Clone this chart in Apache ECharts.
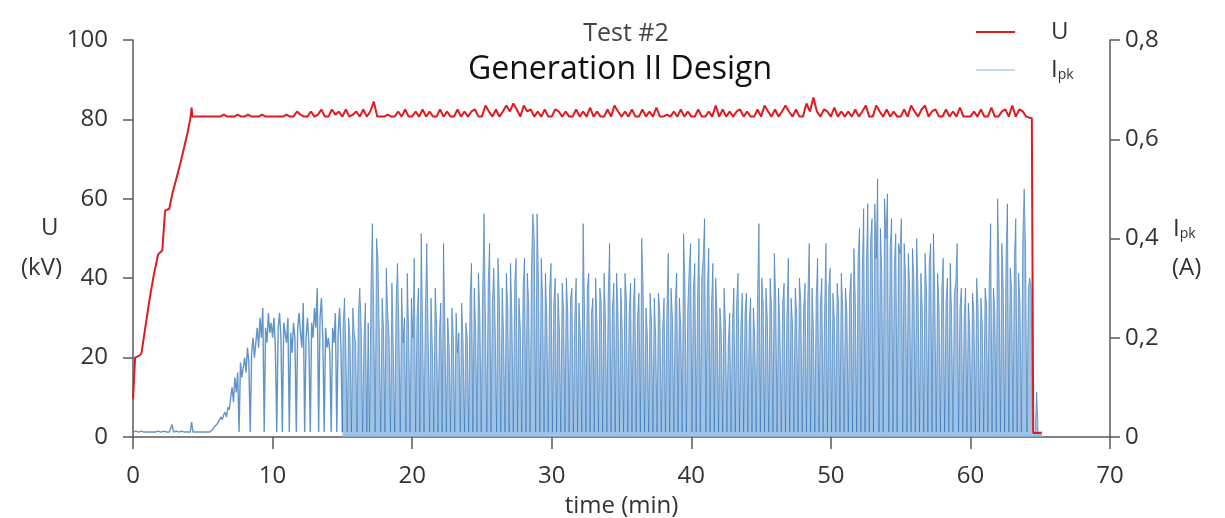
<!DOCTYPE html>
<html>
<head>
<meta charset="utf-8">
<script src="https://cdn.jsdelivr.net/npm/echarts@6/dist/echarts.min.js"></script>
<style>
  html, body { margin: 0; padding: 0; background: #fff; }
  #chart { width: 1225px; height: 518px; }
</style>
</head>
<body>
<div id="chart"></div>
<script>
// x axis ticks (min)
const timeTicks = [0, 10, 20, 30, 40, 50, 60, 70];

// U (kV): ramp up, noisy plateau (every 0.25 min from 5.0), drop at the end
const uRampTime = [0, 0.15, 0.45, 0.6, 0.9, 1.2, 1.5, 1.8, 2.1, 2.3, 2.6, 2.8, 3.1, 3.4, 3.6, 3.9, 4.1, 4.2, 4.25, 4.75];
const uRampValues = [9.5, 20, 20.5, 21, 28, 35, 41, 46, 47, 57, 57.5, 61, 65, 69, 72, 76.5, 80, 83, 80.7, 80.7];
const uPlateauStart = 5.0;
const uPlateauStep = 0.25;
const uPlateau = [
  80.7, 80.7, 80.7, 80.7,
  80.7, 80.7, 81.2, 80.7,
  80.7, 80.7, 81.2, 80.7,
  80.7, 81.2, 80.7, 80.7,
  80.7, 81.2, 80.7, 80.7,
  80.7, 80.7, 80.7, 80.7,
  81.2, 80.7, 80.7, 82,
  81.2, 80.7, 80.7, 82,
  80.7, 81.2, 82.5, 80.7,
  80.7, 82.5, 81.2, 82,
  80.7, 82.5, 80.7, 81.2,
  82, 80.7, 82.5, 80.7,
  82, 84.5, 80.7, 80.7,
  80.7, 81.2, 80.7, 80.7,
  82, 80.7, 82.5, 80.7,
  80.7, 82, 80.7, 82.5,
  80.7, 82, 80.7, 80.7,
  82.5, 80.7, 82, 80.7,
  80.7, 82.5, 80.7, 82,
  80.7, 82, 82.5, 80.7,
  80.7, 83.5, 82, 80.7,
  82.5, 80.7, 82, 83.5,
  82, 84, 82.5, 80.7,
  83.5, 82, 82.5, 80.7,
  82, 80.7, 82.5, 80.7,
  80.7, 82.5, 82, 80.7,
  82, 80.7, 80.7, 82.5,
  80.7, 82, 80.7, 83,
  80.7, 82, 80.7, 80.7,
  82.5, 80.7, 83.5, 82,
  80.7, 82, 80.7, 82.5,
  80.7, 80.7, 82.5, 80.7,
  82, 80.7, 83, 80.7,
  80.7, 81.2, 80.7, 82,
  80.7, 82.5, 80.7, 82,
  80.7, 80.7, 82.5, 80.7,
  80.7, 82, 80.7, 83.5,
  80.7, 82.5, 80.7, 82,
  80.7, 82, 82.5, 80.7,
  82, 80.7, 80.7, 82.5,
  80.7, 83.5, 82, 80.7,
  82.5, 80.7, 82, 83.5,
  82, 80.7, 82.5, 80.7,
  80.7, 84, 82, 85.5,
  82, 80.7, 82.5, 82,
  80.7, 83, 80.7, 82,
  80.7, 82, 80.7, 82.5,
  80.7, 82, 83.5, 80.7,
  80.7, 83.5, 82, 80.7,
  82.5, 80.7, 82, 80.7,
  80.7, 82.5, 80.7, 83.5,
  82, 80.7, 82.5, 83.5,
  80.7, 82, 82.5, 80.7,
  80.7, 82.5, 80.7, 82,
  80.7, 83, 80.7, 80.7,
  80.7, 82, 80.7, 82.5,
  80.7, 80.7, 83, 80.7,
  80.7, 82, 82.5, 80.7,
  83.5, 80.7, 82.5, 82,
  80.7, 80.4
];
const uEndTime = [64.4, 64.5, 65.1];
const uEndValues = [80.3, 1, 1];

// Ipk (A), sampled every 0.1 min from t = 0, one line per minute
const ipkStart = 0;
const ipkStep = 0.1;
const ipkValues = [
  0.01, 0.01, 0.012, 0.01, 0.01, 0.01, 0.012, 0.01, 0.01, 0.01,
  0.01, 0.01, 0.01, 0.012, 0.01, 0.01, 0.01, 0.01, 0.012, 0.01,
  0.01, 0.01, 0.012, 0.01, 0.01, 0.01, 0.01, 0.012, 0.025, 0.01,
  0.01, 0.012, 0.01, 0.01, 0.01, 0.012, 0.01, 0.01, 0.01, 0.01,
  0.012, 0.01, 0.03, 0.01, 0.01, 0.01, 0.012, 0.01, 0.01, 0.01,
  0.01, 0.01, 0.012, 0.01, 0.01, 0.01, 0.012, 0.015, 0.02, 0.018,
  0.025, 0.03, 0.028, 0.04, 0.035, 0.045, 0.05, 0.04, 0.06, 0.055,
  0.08, 0.1, 0.07, 0.12, 0.09, 0.13, 0.01, 0.15, 0.12, 0.14,
  0.16, 0.13, 0.18, 0.15, 0.01, 0.17, 0.2, 0.16, 0.19, 0.22,
  0.18, 0.24, 0.2, 0.26, 0.01, 0.22, 0.19, 0.25, 0.21, 0.23,
  0.2, 0.24, 0.18, 0.01, 0.22, 0.25, 0.2, 0.01, 0.23, 0.21,
  0.19, 0.24, 0.01, 0.21, 0.17, 0.23, 0.2, 0.01, 0.22, 0.25,
  0.21, 0.18, 0.27, 0.01, 0.2, 0.24, 0.19, 0.01, 0.23, 0.2,
  0.26, 0.22, 0.3, 0.01, 0.24, 0.28, 0.2, 0.01, 0.22, 0.18,
  0.2, 0.17, 0.01, 0.22, 0.19, 0.25, 0.01, 0.21, 0.26, 0.18,
  0.01, 0.22, 0.28, 0.18, 0.01, 0.24, 0.2, 0.01, 0.26, 0.21,
  0.19, 0.01, 0.25, 0.3, 0.22, 0.01, 0.2, 0.27, 0.01, 0.23,
  0.01, 0.3, 0.43, 0.24, 0.01, 0.4, 0.36, 0.2, 0.01, 0.28,
  0.22, 0.01, 0.34, 0.25, 0.2, 0.01, 0.31, 0.18, 0.01, 0.27,
  0.35, 0.22, 0.01, 0.3, 0.19, 0.24, 0.01, 0.33, 0.21, 0.01,
  0.28, 0.2, 0.36, 0.01, 0.24, 0.3, 0.01, 0.41, 0.22, 0.01,
  0.26, 0.39, 0.2, 0.01, 0.28, 0.18, 0.01, 0.3, 0.23, 0.01,
  0.21, 0.27, 0.01, 0.39, 0.22, 0.01, 0.24, 0.18, 0.01, 0.26,
  0.2, 0.01, 0.25, 0.17, 0.21, 0.01, 0.27, 0.19, 0.01, 0.23,
  0.2, 0.01, 0.28, 0.35, 0.01, 0.3, 0.22, 0.01, 0.33, 0.25,
  0.01, 0.29, 0.45, 0.24, 0.01, 0.31, 0.39, 0.01, 0.27, 0.34,
  0.22, 0.01, 0.36, 0.28, 0.01, 0.3, 0.21, 0.01, 0.33, 0.26,
  0.01, 0.35, 0.24, 0.01, 0.31, 0.36, 0.01, 0.28, 0.22, 0.01,
  0.3, 0.36, 0.01, 0.33, 0.27, 0.01, 0.34, 0.45, 0.4, 0.01,
  0.45, 0.32, 0.01, 0.36, 0.28, 0.01, 0.33, 0.24, 0.01, 0.3,
  0.35, 0.01, 0.27, 0.32, 0.01, 0.29, 0.22, 0.01, 0.31, 0.26,
  0.01, 0.32, 0.25, 0.01, 0.28, 0.3, 0.01, 0.24, 0.32, 0.01,
  0.27, 0.21, 0.01, 0.43, 0.26, 0.01, 0.3, 0.33, 0.01, 0.25,
  0.28, 0.01, 0.32, 0.22, 0.01, 0.3, 0.27, 0.01, 0.33, 0.24,
  0.01, 0.29, 0.39, 0.01, 0.26, 0.31, 0.01, 0.33, 0.25, 0.01,
  0.3, 0.22, 0.01, 0.33, 0.28, 0.01, 0.25, 0.31, 0.01, 0.27,
  0.32, 0.01, 0.24, 0.29, 0.01, 0.4, 0.3, 0.01, 0.26, 0.21,
  0.01, 0.29, 0.23, 0.01, 0.28, 0.2, 0.01, 0.29, 0.25, 0.01,
  0.22, 0.28, 0.01, 0.25, 0.37, 0.01, 0.3, 0.24, 0.01, 0.27,
  0.33, 0.01, 0.28, 0.22, 0.01, 0.41, 0.3, 0.01, 0.26, 0.34,
  0.39, 0.01, 0.3, 0.35, 0.01, 0.28, 0.4, 0.01, 0.32, 0.36,
  0.44, 0.01, 0.3, 0.38, 0.01, 0.27, 0.35, 0.01, 0.32, 0.24,
  0.01, 0.26, 0.21, 0.01, 0.3, 0.23, 0.01, 0.19, 0.25, 0.01,
  0.23, 0.3, 0.01, 0.27, 0.33, 0.01, 0.22, 0.29, 0.01, 0.25,
  0.29, 0.01, 0.23, 0.28, 0.01, 0.26, 0.2, 0.01, 0.29, 0.43,
  0.01, 0.32, 0.27, 0.01, 0.3, 0.24, 0.01, 0.32, 0.26, 0.01,
  0.37, 0.28, 0.01, 0.3, 0.22, 0.01, 0.27, 0.31, 0.01, 0.24,
  0.36, 0.01, 0.28, 0.23, 0.01, 0.3, 0.25, 0.01, 0.32, 0.27,
  0.01, 0.26, 0.31, 0.01, 0.28, 0.39, 0.01, 0.3, 0.22, 0.01,
  0.28, 0.36, 0.01, 0.27, 0.32, 0.01, 0.25, 0.39, 0.01, 0.3,
  0.34, 0.01, 0.29, 0.24, 0.01, 0.31, 0.27, 0.01, 0.33, 0.26,
  0.01, 0.3, 0.25, 0.01, 0.29, 0.33, 0.01, 0.38, 0.28, 0.01,
  0.36, 0.42, 0.01, 0.33, 0.46, 0.01, 0.35, 0.47, 0.01, 0.4,
  0.44, 0.01, 0.47, 0.36, 0.52, 0.01, 0.42, 0.33, 0.01, 0.48,
  0.4, 0.49, 0.01, 0.38, 0.44, 0.01, 0.35, 0.41, 0.01, 0.39,
  0.37, 0.44, 0.01, 0.39, 0.33, 0.01, 0.37, 0.3, 0.01, 0.38,
  0.32, 0.01, 0.4, 0.29, 0.01, 0.33, 0.26, 0.01, 0.37, 0.3,
  0.01, 0.35, 0.39, 0.01, 0.41, 0.28, 0.01, 0.33, 0.26, 0.01,
  0.3, 0.36, 0.01, 0.27, 0.32, 0.01, 0.35, 0.25, 0.01, 0.29,
  0.31, 0.39, 0.01, 0.26, 0.3, 0.01, 0.24, 0.3, 0.01, 0.27,
  0.22, 0.01, 0.29, 0.25, 0.01, 0.32, 0.26, 0.01, 0.28, 0.23,
  0.01, 0.3, 0.27, 0.01, 0.32, 0.43, 0.01, 0.3, 0.25, 0.01,
  0.48, 0.33, 0.01, 0.39, 0.3, 0.01, 0.36, 0.47, 0.01, 0.34,
  0.3, 0.01, 0.36, 0.44, 0.01, 0.33, 0.27, 0.01, 0.4, 0.5,
  0.38, 0.01, 0.3, 0.32, 0.3, 0.01, 0.01, 0.02, 0.09, 0.01,
  0.01, 0.01, 0.01
];
// from this sample on the trace switches so fast that it reads as filled columns
const ipkDenseFrom = 150;

const FONT = "'Open Sans', 'Noto Sans', sans-serif";
const AXIS_COLOR = '#5a5a5a';
const TEXT_COLOR = '#333';
const FS = 24;

function buildU() {
  const pts = [];
  for (let i = 0; i < uRampTime.length; i++) pts.push([uRampTime[i], uRampValues[i]]);
  for (let i = 0; i < uPlateau.length; i++) pts.push([uPlateauStart + i * uPlateauStep, uPlateau[i]]);
  for (let i = 0; i < uEndTime.length; i++) pts.push([uEndTime[i], uEndValues[i]]);
  return pts;
}

function buildIpk(from, to) {
  const pts = [];
  for (let i = from; i < to; i++) pts.push([+(ipkStart + i * ipkStep).toFixed(2), ipkValues[i]]);
  return pts;
}

var chartDom = document.getElementById('chart');
var myChart = echarts.init(chartDom, null, { renderer: 'canvas' });
var option;

option = {
  animation: false,
  backgroundColor: '#fff',
  title: [
    {
      text: 'Test #2',
      left: 621,
      top: 16,
      textAlign: 'center',
      textStyle: { fontFamily: FONT, fontSize: 25, fontWeight: 'normal', color: '#444' }
    },
    {
      text: 'Generation II Design',
      left: 615,
      top: 49,
      textAlign: 'center',
      textStyle: { fontFamily: FONT, fontSize: 32, fontWeight: 'normal', color: '#111' }
    }
  ],
  legend: {
    orient: 'vertical',
    left: 971,
    top: 15,
    icon: 'rect',
    itemWidth: 39,
    itemHeight: 2,
    itemGap: 14,
    data: [
      { name: 'U', itemStyle: { color: '#e01b1f' } },
      { name: 'Ipk', itemStyle: { color: '#c9d9ec' } }
    ],
    textStyle: {
      fontFamily: FONT,
      fontSize: FS,
      lineHeight: 24,
      color: TEXT_COLOR,
      padding: [0, 0, 0, 31],
      rich: {
        i: { fontFamily: FONT, fontSize: FS, lineHeight: 24, color: TEXT_COLOR },
        s: { fontFamily: FONT, fontSize: 14, lineHeight: 24, color: TEXT_COLOR, padding: [10, 0, 0, 0] }
      }
    },
    formatter: function (name) {
      return name === 'Ipk' ? '{i|I}{s|pk}' : name;
    }
  },
  grid: {
    left: 133,
    right: 115,
    top: 40,
    bottom: 81,
    containLabel: false,
    outerBoundsMode: 'none'
  },
  xAxis: {
    type: 'value',
    min: timeTicks[0],
    max: timeTicks[timeTicks.length - 1],
    interval: 10,
    name: 'time (min)',
    nameLocation: 'middle',
    nameGap: 57,
    nameTextStyle: { fontFamily: FONT, fontSize: FS, color: TEXT_COLOR },
    axisLine: { show: true, lineStyle: { color: AXIS_COLOR, width: 1.5 } },
    axisTick: { show: true, length: 12, lineStyle: { color: AXIS_COLOR, width: 1.5 } },
    axisLabel: { margin: 27, fontFamily: FONT, fontSize: FS, color: TEXT_COLOR },
    splitLine: { show: false }
  },
  yAxis: [
    {
      type: 'value',
      min: 0,
      max: 100,
      interval: 20,
      position: 'left',
      axisLine: { show: true, lineStyle: { color: AXIS_COLOR, width: 1.5 } },
      axisTick: { show: true, length: 10, lineStyle: { color: AXIS_COLOR, width: 1.5 } },
      axisLabel: { margin: 25, fontFamily: FONT, fontSize: FS, color: TEXT_COLOR },
      splitLine: { show: false }
    },
    {
      type: 'value',
      min: 0,
      max: 0.8,
      interval: 0.2,
      position: 'right',
      axisLine: { show: true, lineStyle: { color: AXIS_COLOR, width: 1.5 } },
      axisTick: { show: true, length: 10, lineStyle: { color: AXIS_COLOR, width: 1.5 } },
      axisLabel: {
        margin: 15,
        fontFamily: FONT,
        fontSize: FS,
        color: TEXT_COLOR,
        formatter: function (v) { return String(+v.toFixed(1)).replace('.', ','); }
      },
      splitLine: { show: false }
    }
  ],
  graphic: [
    {
      type: 'text',
      left: 41,
      top: 216,
      style: { text: 'U', fontFamily: FONT, fontSize: FS, fill: TEXT_COLOR }
    },
    {
      type: 'text',
      left: 21,
      top: 256,
      style: { text: '(kV)', fontFamily: FONT, fontSize: FS, fill: TEXT_COLOR }
    },
    {
      type: 'text',
      left: 1173,
      top: 217,
      style: {
        text: '{i|I}{s|pk}',
        rich: {
          i: { fontFamily: FONT, fontSize: FS, lineHeight: 24, fill: TEXT_COLOR },
          s: { fontFamily: FONT, fontSize: 14, lineHeight: 24, fill: TEXT_COLOR, padding: [10, 0, 0, 0] }
        }
      }
    },
    {
      type: 'text',
      left: 1172,
      top: 256,
      style: { text: '(A)', fontFamily: FONT, fontSize: FS, fill: TEXT_COLOR }
    }
  ],
  series: [
    {
      name: 'Ipk',
      type: 'line',
      yAxisIndex: 1,
      data: buildIpk(0, ipkDenseFrom + 1),
      symbol: 'none',
      color: '#3f7fbf',
      lineStyle: { color: '#3a7abb', width: 1.4, opacity: 0.8 },
      z: 2
    },
    {
      name: 'Ipk',
      type: 'line',
      yAxisIndex: 1,
      data: buildIpk(ipkDenseFrom, ipkValues.length),
      symbol: 'none',
      step: 'middle',
      color: '#3f7fbf',
      lineStyle: { color: '#2f6fb0', width: 1, opacity: 0.6 },
      areaStyle: { color: '#86b3df', opacity: 0.8 },
      z: 2
    },
    {
      name: 'U',
      type: 'line',
      yAxisIndex: 0,
      data: buildU(),
      symbol: 'none',
      color: '#e01b1f',
      lineStyle: { color: '#e01b1f', width: 2 },
      z: 3
    }
  ]
};

option && myChart.setOption(option);
</script>
</body>
</html>
